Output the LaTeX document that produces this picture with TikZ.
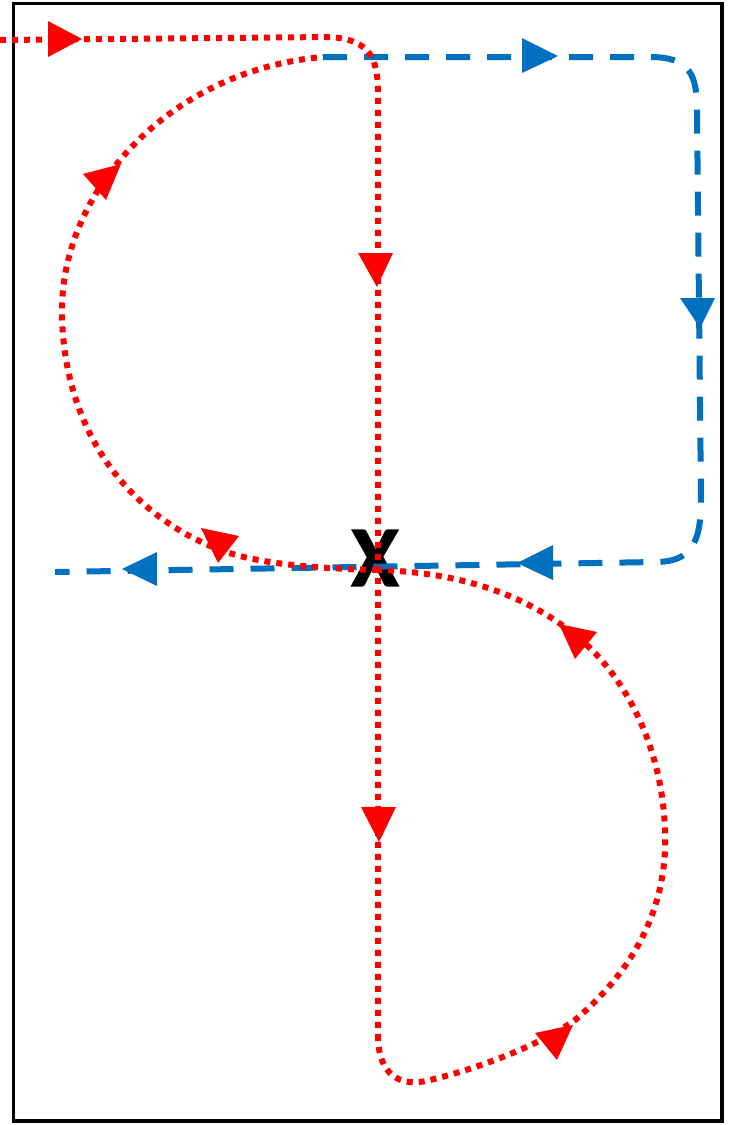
\documentclass[tikz,border=0pt]{standalone}
\usepackage{fontspec}
\newfontfamily\xfont[BoldFeatures={FakeBold=1.5}]{Carlito}
\definecolor{myred}{RGB}{255,0,0}
\definecolor{myblue}{RGB}{0,112,192}
\begin{document}
\begin{tikzpicture}[x=1pt,y=-1pt,
  redline/.style={myred,line width=6pt,dash pattern=on 6pt off 6pt},
  blueline/.style={myblue,line width=6pt,dash pattern=on 24pt off 17pt},
  redtip/.style={fill=myred},
  bluetip/.style={fill=myblue},
  frame/.style={draw=black,line width=3.5pt}]
\useasboundingbox (0,0) rectangle (729,1125);
\draw[frame] (13.3,3.3) rectangle (722,1121);
\node[font=\xfont\bfseries\fontsize{86}{86}\selectfont, inner sep=0pt] (X) at (375,558) {X};
% named points
\coordinate (rstart) at (0,40);
\coordinate (xc) at (378,570);
\coordinate (bstart) at (323,57);
\coordinate (bend) at (55,572);
% blue dashed loop
\draw[blueline] (bstart) -- (650,57) .. controls (690,57) and (697,75) .. (697,110)
  -- (701,500) .. controls (701,545) and (690,562) .. (655,562) -- (bend);
% red: top line, down through X
\draw[redline] (rstart) -- (330,37) .. controls (372,40) and (378,60) .. (378,95)
  -- (xc) -- (378,1035);
% red: lower loop
\draw[redline] (378,1035) .. controls (378,1075) and (400,1088) .. (430,1080)
  .. controls (480,1068) and (540,1045) .. (575,1020)
  .. controls (640,965) and (668,900) .. (665,830)
  .. controls (662,740) and (620,670) .. (575,635)
  .. controls (520,590) and (450,572) .. (xc);
% red: upper left loop
\draw[redline] (xc) .. controls (300,568) and (250,562) .. (215,548)
  .. controls (110,505) and (62,410) .. (62,310)
  .. controls (62,190) and (170,70) .. (bstart);
% red arrow heads
\fill[redtip] (48,21) -- (48,57) -- (82,39) -- cycle;
\fill[redtip] (83,174) -- (106,200) -- (121,164) -- cycle;
\fill[redtip] (358,253) -- (393,253) -- (377,287) -- cycle;
\fill[redtip] (361,807) -- (396,807) -- (379,842) -- cycle;
\fill[redtip] (201,528) -- (239,536) -- (218,563) -- cycle;
\fill[redtip] (559,624) -- (597,632) -- (575,659) -- cycle;
\fill[redtip] (535,1033) -- (573,1025) -- (557,1060) -- cycle;
% blue arrow heads
\fill[bluetip] (522,38) -- (522,73) -- (558,56) -- cycle;
\fill[bluetip] (680,298) -- (715,298) -- (700,328) -- cycle;
\fill[bluetip] (517,563) -- (553,545) -- (553,580) -- cycle;
\fill[bluetip] (122,569) -- (157,552) -- (157,586) -- cycle;
\end{tikzpicture}
\end{document}
